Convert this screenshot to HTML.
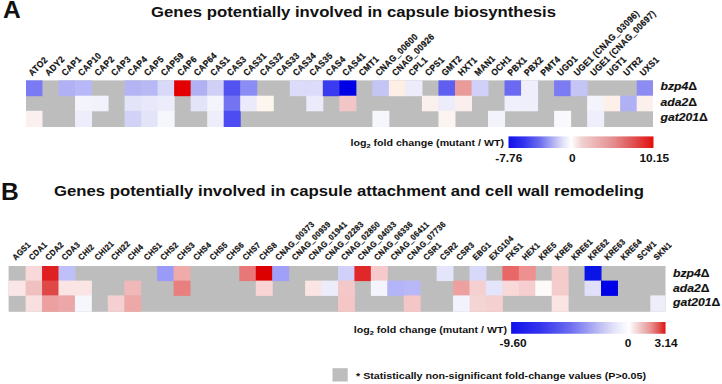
<!DOCTYPE html>
<html><head><meta charset="utf-8"><style>html,body{margin:0;padding:0;background:#fff;width:722px;height:384px;overflow:hidden}svg{display:block}</style></head><body>
<svg width="722" height="384" viewBox="0 0 722 384">
<defs>
<linearGradient id="ga" x1="0" x2="1" y1="0" y2="0"><stop offset="0.0000" stop-color="#1010ec"/><stop offset="0.1082" stop-color="#3434ee"/><stop offset="0.2165" stop-color="#6c6cf0"/><stop offset="0.3291" stop-color="#c0c0f4"/><stop offset="0.3767" stop-color="#e2e2fa"/><stop offset="0.4330" stop-color="#ffffff"/><stop offset="0.4330" stop-color="#ffffff"/><stop offset="0.4670" stop-color="#f8e8e8"/><stop offset="0.5067" stop-color="#f0d0d0"/><stop offset="0.5974" stop-color="#ecb4b4"/><stop offset="0.7165" stop-color="#e49090"/><stop offset="0.8639" stop-color="#e05050"/><stop offset="0.9433" stop-color="#e42828"/><stop offset="1.0000" stop-color="#e01010"/></linearGradient>
<linearGradient id="gb" x1="0" x2="1" y1="0" y2="0"><stop offset="0.0000" stop-color="#1010ec"/><stop offset="0.1908" stop-color="#3434ee"/><stop offset="0.3815" stop-color="#6c6cf0"/><stop offset="0.5799" stop-color="#c0c0f4"/><stop offset="0.6638" stop-color="#e2e2fa"/><stop offset="0.7630" stop-color="#ffffff"/><stop offset="0.7630" stop-color="#ffffff"/><stop offset="0.7985" stop-color="#f6e4e4"/><stop offset="0.8459" stop-color="#eec0c0"/><stop offset="0.9052" stop-color="#e89090"/><stop offset="0.9645" stop-color="#e04848"/><stop offset="1.0000" stop-color="#e01010"/></linearGradient>
</defs>
<g font-family="Liberation Sans, sans-serif" font-weight="bold" fill="#111">
<text transform="translate(2.9,17.7) scale(1.045,1)" font-size="23.5">A</text>
<text transform="translate(0.9,199.9) scale(1.045,1)" font-size="23.5">B</text>
<text x="151" y="17" font-size="14.4" textLength="405" lengthAdjust="spacingAndGlyphs">Genes potentially involved in capsule biosynthesis</text>
<text x="54" y="196.2" font-size="14.4" textLength="590" lengthAdjust="spacingAndGlyphs">Genes potentially involved in capsule attachment and cell wall remodeling</text>
<rect x="26.0" y="80.4" width="627.0" height="46.599999999999994" fill="#bdbdbd"/>
<rect x="26.00" y="80.40" width="16.48" height="15.80" fill="#7a7af5"/>
<rect x="26.00" y="110.80" width="16.48" height="16.20" fill="#fbf0f0"/>
<rect x="58.50" y="80.40" width="17.02" height="15.80" fill="#b0b0f5"/>
<rect x="75.02" y="80.40" width="17.02" height="15.80" fill="#b8b8f8"/>
<rect x="75.02" y="95.70" width="17.02" height="15.60" fill="#f4f4fc"/>
<rect x="75.02" y="110.80" width="17.02" height="16.20" fill="#ededfb"/>
<rect x="91.54" y="95.70" width="17.02" height="15.60" fill="#f2f2fc"/>
<rect x="124.58" y="80.40" width="17.02" height="15.80" fill="#b4b4f4"/>
<rect x="124.58" y="95.70" width="17.02" height="15.60" fill="#e4e4f9"/>
<rect x="124.58" y="110.80" width="17.02" height="16.20" fill="#d2d2f6"/>
<rect x="141.10" y="80.40" width="17.02" height="15.80" fill="#b8b8f5"/>
<rect x="141.10" y="95.70" width="17.02" height="15.60" fill="#e8e8fa"/>
<rect x="141.10" y="110.80" width="17.02" height="16.20" fill="#e4e4f9"/>
<rect x="157.62" y="80.40" width="17.02" height="15.80" fill="#d8d8f8"/>
<rect x="157.62" y="95.70" width="17.02" height="15.60" fill="#ececfa"/>
<rect x="157.62" y="110.80" width="17.02" height="16.20" fill="#f6f6fd"/>
<rect x="174.14" y="80.40" width="17.02" height="15.80" fill="#e40000"/>
<rect x="190.66" y="80.40" width="17.02" height="15.80" fill="#b0b0f3"/>
<rect x="190.66" y="95.70" width="17.02" height="15.60" fill="#e4e4f8"/>
<rect x="207.18" y="80.40" width="17.02" height="15.80" fill="#d0d0f7"/>
<rect x="207.18" y="95.70" width="17.02" height="15.60" fill="#f4f4fc"/>
<rect x="207.18" y="110.80" width="17.02" height="16.20" fill="#eeeefb"/>
<rect x="223.70" y="80.40" width="17.02" height="15.80" fill="#5252f0"/>
<rect x="223.70" y="95.70" width="17.02" height="15.60" fill="#7474f2"/>
<rect x="223.70" y="110.80" width="17.02" height="16.20" fill="#4c4cf2"/>
<rect x="240.22" y="80.40" width="17.02" height="15.80" fill="#8c8cf5"/>
<rect x="240.22" y="95.70" width="17.02" height="15.60" fill="#eaeafb"/>
<rect x="256.74" y="95.70" width="17.02" height="15.60" fill="#fdf6ee"/>
<rect x="289.78" y="80.40" width="17.02" height="15.80" fill="#dcdcfa"/>
<rect x="306.30" y="80.40" width="17.02" height="15.80" fill="#dcdcfa"/>
<rect x="306.30" y="95.70" width="17.02" height="15.60" fill="#ebebfb"/>
<rect x="322.82" y="80.40" width="17.02" height="15.80" fill="#3a3aee"/>
<rect x="339.34" y="80.40" width="17.02" height="15.80" fill="#0000e6"/>
<rect x="339.34" y="95.70" width="17.02" height="15.60" fill="#f2c6c6"/>
<rect x="372.38" y="80.40" width="17.02" height="15.80" fill="#c4c4f5"/>
<rect x="372.38" y="110.80" width="17.02" height="16.20" fill="#f6f6fd"/>
<rect x="388.90" y="80.40" width="17.02" height="15.80" fill="#fdeee6"/>
<rect x="405.42" y="80.40" width="17.02" height="15.80" fill="#ececfb"/>
<rect x="421.94" y="95.70" width="17.02" height="15.60" fill="#faf0ee"/>
<rect x="438.46" y="80.40" width="17.02" height="15.80" fill="#5e5ef0"/>
<rect x="438.46" y="95.70" width="17.02" height="15.60" fill="#ececfa"/>
<rect x="438.46" y="110.80" width="17.02" height="16.20" fill="#fcf4f0"/>
<rect x="454.98" y="80.40" width="17.02" height="15.80" fill="#eb9a9a"/>
<rect x="454.98" y="95.70" width="17.02" height="15.60" fill="#fbefee"/>
<rect x="471.50" y="80.40" width="17.02" height="15.80" fill="#d0d0f8"/>
<rect x="488.02" y="110.80" width="17.02" height="16.20" fill="#f3f3fc"/>
<rect x="504.54" y="80.40" width="17.02" height="15.80" fill="#6a6af2"/>
<rect x="504.54" y="95.70" width="17.02" height="15.60" fill="#f0f0fc"/>
<rect x="521.06" y="80.40" width="17.02" height="15.80" fill="#efeffb"/>
<rect x="521.06" y="95.70" width="17.02" height="15.60" fill="#efeffb"/>
<rect x="554.10" y="80.40" width="17.02" height="15.80" fill="#7c7cf2"/>
<rect x="554.10" y="110.80" width="17.02" height="16.20" fill="#f8f8fd"/>
<rect x="570.62" y="80.40" width="17.02" height="15.80" fill="#c4c4f6"/>
<rect x="587.14" y="95.70" width="17.02" height="15.60" fill="#f4f4fc"/>
<rect x="587.14" y="110.80" width="17.02" height="16.20" fill="#efeffb"/>
<rect x="603.66" y="95.70" width="17.02" height="15.60" fill="#fcf0e8"/>
<rect x="620.18" y="95.70" width="17.02" height="15.60" fill="#b0b0f5"/>
<rect x="636.70" y="80.40" width="16.30" height="15.80" fill="#8c8cf3"/>
<rect x="636.70" y="95.70" width="16.30" height="15.60" fill="#fcf0ec"/>
<rect x="8.6" y="266.0" width="656.9" height="45.80000000000001" fill="#bdbdbd"/>
<rect x="8.60" y="280.60" width="17.52" height="15.30" fill="#fae6e6"/>
<rect x="25.62" y="266.00" width="16.94" height="15.10" fill="#f8d8d8"/>
<rect x="25.62" y="280.60" width="16.94" height="15.30" fill="#f0c0c0"/>
<rect x="25.62" y="295.40" width="16.94" height="16.40" fill="#f8e0e0"/>
<rect x="42.06" y="266.00" width="16.94" height="15.10" fill="#e02020"/>
<rect x="42.06" y="280.60" width="16.94" height="15.30" fill="#e04848"/>
<rect x="42.06" y="295.40" width="16.94" height="16.40" fill="#eca0a0"/>
<rect x="58.50" y="266.00" width="16.94" height="15.10" fill="#c0c0f8"/>
<rect x="58.50" y="280.60" width="16.94" height="15.30" fill="#fae4e4"/>
<rect x="58.50" y="295.40" width="16.94" height="16.40" fill="#eca8a8"/>
<rect x="74.94" y="280.60" width="16.94" height="15.30" fill="#fae4e4"/>
<rect x="74.94" y="295.40" width="16.94" height="16.40" fill="#f6f6fd"/>
<rect x="107.82" y="295.40" width="16.94" height="16.40" fill="#f5d0d0"/>
<rect x="124.26" y="280.60" width="16.94" height="15.30" fill="#f0b8b8"/>
<rect x="124.26" y="295.40" width="16.94" height="16.40" fill="#eea8a8"/>
<rect x="157.14" y="266.00" width="16.94" height="15.10" fill="#9a9af8"/>
<rect x="173.58" y="266.00" width="16.94" height="15.10" fill="#efaaaa"/>
<rect x="173.58" y="280.60" width="16.94" height="15.30" fill="#e88080"/>
<rect x="239.34" y="266.00" width="16.94" height="15.10" fill="#e87878"/>
<rect x="255.78" y="266.00" width="16.94" height="15.10" fill="#dc0000"/>
<rect x="255.78" y="280.60" width="16.94" height="15.30" fill="#f8d4d4"/>
<rect x="272.22" y="266.00" width="16.94" height="15.10" fill="#a0a0f8"/>
<rect x="305.10" y="280.60" width="16.94" height="15.30" fill="#fae4e4"/>
<rect x="321.54" y="280.60" width="16.94" height="15.30" fill="#ececfb"/>
<rect x="337.98" y="266.00" width="16.94" height="15.10" fill="#d0d0f8"/>
<rect x="337.98" y="280.60" width="16.94" height="15.30" fill="#f4c8c8"/>
<rect x="337.98" y="295.40" width="16.94" height="16.40" fill="#f4c6c6"/>
<rect x="354.42" y="266.00" width="16.94" height="15.10" fill="#e02828"/>
<rect x="370.86" y="266.00" width="16.94" height="15.10" fill="#f6caca"/>
<rect x="370.86" y="280.60" width="16.94" height="15.30" fill="#f4f4fd"/>
<rect x="387.30" y="280.60" width="16.94" height="15.30" fill="#b4b4f8"/>
<rect x="403.74" y="280.60" width="16.94" height="15.30" fill="#b8b8f8"/>
<rect x="403.74" y="295.40" width="16.94" height="16.40" fill="#f5c6c6"/>
<rect x="436.62" y="266.00" width="16.94" height="15.10" fill="#e4e4fa"/>
<rect x="453.06" y="280.60" width="16.94" height="15.30" fill="#eca0a0"/>
<rect x="453.06" y="295.40" width="16.94" height="16.40" fill="#f2f2fd"/>
<rect x="469.50" y="266.00" width="16.94" height="15.10" fill="#d8d8f8"/>
<rect x="469.50" y="280.60" width="16.94" height="15.30" fill="#f5d0d0"/>
<rect x="469.50" y="295.40" width="16.94" height="16.40" fill="#f5d4d4"/>
<rect x="485.94" y="280.60" width="16.94" height="15.30" fill="#e4e4fa"/>
<rect x="485.94" y="295.40" width="16.94" height="16.40" fill="#f5d0d0"/>
<rect x="502.38" y="266.00" width="16.94" height="15.10" fill="#e86868"/>
<rect x="502.38" y="280.60" width="16.94" height="15.30" fill="#f8d8d8"/>
<rect x="518.82" y="266.00" width="16.94" height="15.10" fill="#ee9090"/>
<rect x="518.82" y="280.60" width="16.94" height="15.30" fill="#f5cfcf"/>
<rect x="535.26" y="280.60" width="16.94" height="15.30" fill="#fdfafa"/>
<rect x="551.70" y="266.00" width="16.94" height="15.10" fill="#f5caca"/>
<rect x="551.70" y="280.60" width="16.94" height="15.30" fill="#f5cccc"/>
<rect x="551.70" y="295.40" width="16.94" height="16.40" fill="#fae4e4"/>
<rect x="584.58" y="266.00" width="16.94" height="15.10" fill="#0a14e6"/>
<rect x="584.58" y="280.60" width="16.94" height="15.30" fill="#e0e0fa"/>
<rect x="601.02" y="280.60" width="16.94" height="15.30" fill="#0000e8"/>
<rect x="650.34" y="295.40" width="15.16" height="16.40" fill="#eeeefb"/>
<text transform="translate(32.22,76.50) rotate(-45) scale(1.0,1.1)" font-size="8.3" letter-spacing="0.35" stroke="#111" stroke-width="0.2">ATO2</text>
<text transform="translate(48.74,76.50) rotate(-45) scale(1.0,1.1)" font-size="8.3" letter-spacing="0.35" stroke="#111" stroke-width="0.2">ADY2</text>
<text transform="translate(65.26,76.50) rotate(-45) scale(1.0,1.1)" font-size="8.3" letter-spacing="0.35" stroke="#111" stroke-width="0.2">CAP1</text>
<text transform="translate(81.78,76.50) rotate(-45) scale(1.0,1.1)" font-size="8.3" letter-spacing="0.35" stroke="#111" stroke-width="0.2">CAP10</text>
<text transform="translate(98.30,76.50) rotate(-45) scale(1.0,1.1)" font-size="8.3" letter-spacing="0.35" stroke="#111" stroke-width="0.2">CAP2</text>
<text transform="translate(114.82,76.50) rotate(-45) scale(1.0,1.1)" font-size="8.3" letter-spacing="0.35" stroke="#111" stroke-width="0.2">CAP3</text>
<text transform="translate(131.34,76.50) rotate(-45) scale(1.0,1.1)" font-size="8.3" letter-spacing="0.35" stroke="#111" stroke-width="0.2">CAP4</text>
<text transform="translate(147.86,76.50) rotate(-45) scale(1.0,1.1)" font-size="8.3" letter-spacing="0.35" stroke="#111" stroke-width="0.2">CAP5</text>
<text transform="translate(164.38,76.50) rotate(-45) scale(1.0,1.1)" font-size="8.3" letter-spacing="0.35" stroke="#111" stroke-width="0.2">CAP59</text>
<text transform="translate(180.90,76.50) rotate(-45) scale(1.0,1.1)" font-size="8.3" letter-spacing="0.35" stroke="#111" stroke-width="0.2">CAP6</text>
<text transform="translate(197.42,76.50) rotate(-45) scale(1.0,1.1)" font-size="8.3" letter-spacing="0.35" stroke="#111" stroke-width="0.2">CAP64</text>
<text transform="translate(213.94,76.50) rotate(-45) scale(1.0,1.1)" font-size="8.3" letter-spacing="0.35" stroke="#111" stroke-width="0.2">CAS1</text>
<text transform="translate(230.46,76.50) rotate(-45) scale(1.0,1.1)" font-size="8.3" letter-spacing="0.35" stroke="#111" stroke-width="0.2">CAS3</text>
<text transform="translate(246.98,76.50) rotate(-45) scale(1.0,1.1)" font-size="8.3" letter-spacing="0.35" stroke="#111" stroke-width="0.2">CAS31</text>
<text transform="translate(263.50,76.50) rotate(-45) scale(1.0,1.1)" font-size="8.3" letter-spacing="0.35" stroke="#111" stroke-width="0.2">CAS32</text>
<text transform="translate(280.02,76.50) rotate(-45) scale(1.0,1.1)" font-size="8.3" letter-spacing="0.35" stroke="#111" stroke-width="0.2">CAS33</text>
<text transform="translate(296.54,76.50) rotate(-45) scale(1.0,1.1)" font-size="8.3" letter-spacing="0.35" stroke="#111" stroke-width="0.2">CAS34</text>
<text transform="translate(313.06,76.50) rotate(-45) scale(1.0,1.1)" font-size="8.3" letter-spacing="0.35" stroke="#111" stroke-width="0.2">CAS35</text>
<text transform="translate(329.58,76.50) rotate(-45) scale(1.0,1.1)" font-size="8.3" letter-spacing="0.35" stroke="#111" stroke-width="0.2">CAS4</text>
<text transform="translate(346.10,76.50) rotate(-45) scale(1.0,1.1)" font-size="8.3" letter-spacing="0.35" stroke="#111" stroke-width="0.2">CAS41</text>
<text transform="translate(362.62,76.50) rotate(-45) scale(1.0,1.1)" font-size="8.3" letter-spacing="0.35" stroke="#111" stroke-width="0.2">CMT1</text>
<text transform="translate(379.14,76.50) rotate(-45) scale(1.0,1.1)" font-size="8.3" letter-spacing="0.35" stroke="#111" stroke-width="0.2">CNAG_00600</text>
<text transform="translate(395.66,76.50) rotate(-45) scale(1.0,1.1)" font-size="8.3" letter-spacing="0.35" stroke="#111" stroke-width="0.2">CNAG_00926</text>
<text transform="translate(412.18,76.50) rotate(-45) scale(1.0,1.1)" font-size="8.3" letter-spacing="0.35" stroke="#111" stroke-width="0.2">CPL1</text>
<text transform="translate(428.70,76.50) rotate(-45) scale(1.0,1.1)" font-size="8.3" letter-spacing="0.35" stroke="#111" stroke-width="0.2">CPS1</text>
<text transform="translate(445.22,76.50) rotate(-45) scale(1.0,1.1)" font-size="8.3" letter-spacing="0.35" stroke="#111" stroke-width="0.2">GMT2</text>
<text transform="translate(461.74,76.50) rotate(-45) scale(1.0,1.1)" font-size="8.3" letter-spacing="0.35" stroke="#111" stroke-width="0.2">HXT1</text>
<text transform="translate(478.26,76.50) rotate(-45) scale(1.0,1.1)" font-size="8.3" letter-spacing="0.35" stroke="#111" stroke-width="0.2">MAN1</text>
<text transform="translate(494.78,76.50) rotate(-45) scale(1.0,1.1)" font-size="8.3" letter-spacing="0.35" stroke="#111" stroke-width="0.2">OCH1</text>
<text transform="translate(511.30,76.50) rotate(-45) scale(1.0,1.1)" font-size="8.3" letter-spacing="0.35" stroke="#111" stroke-width="0.2">PBX1</text>
<text transform="translate(527.82,76.50) rotate(-45) scale(1.0,1.1)" font-size="8.3" letter-spacing="0.35" stroke="#111" stroke-width="0.2">PBX2</text>
<text transform="translate(544.34,76.50) rotate(-45) scale(1.0,1.1)" font-size="8.3" letter-spacing="0.35" stroke="#111" stroke-width="0.2">PMT4</text>
<text transform="translate(560.86,76.50) rotate(-45) scale(1.0,1.1)" font-size="8.3" letter-spacing="0.35" stroke="#111" stroke-width="0.2">UGD1</text>
<text transform="translate(577.38,76.50) rotate(-45) scale(1.0,1.1)" font-size="8.3" letter-spacing="0.35" stroke="#111" stroke-width="0.2">UGE1 (CNAG_03096)</text>
<text transform="translate(593.90,76.50) rotate(-45) scale(1.0,1.1)" font-size="8.3" letter-spacing="0.35" stroke="#111" stroke-width="0.2">UGE1 (CNAG_00697)</text>
<text transform="translate(610.42,76.50) rotate(-45) scale(1.0,1.1)" font-size="8.3" letter-spacing="0.35" stroke="#111" stroke-width="0.2">UGT1</text>
<text transform="translate(626.94,76.50) rotate(-45) scale(1.0,1.1)" font-size="8.3" letter-spacing="0.35" stroke="#111" stroke-width="0.2">UTR2</text>
<text transform="translate(643.46,76.50) rotate(-45) scale(1.0,1.1)" font-size="8.3" letter-spacing="0.35" stroke="#111" stroke-width="0.2">UXS1</text>
<text transform="translate(15.80,260.70) rotate(-45) scale(1.0,1.1)" font-size="7.6" letter-spacing="0.33" stroke="#111" stroke-width="0.2">AGS1</text>
<text transform="translate(32.24,260.70) rotate(-45) scale(1.0,1.1)" font-size="7.6" letter-spacing="0.33" stroke="#111" stroke-width="0.2">CDA1</text>
<text transform="translate(48.68,260.70) rotate(-45) scale(1.0,1.1)" font-size="7.6" letter-spacing="0.33" stroke="#111" stroke-width="0.2">CDA2</text>
<text transform="translate(65.12,260.70) rotate(-45) scale(1.0,1.1)" font-size="7.6" letter-spacing="0.33" stroke="#111" stroke-width="0.2">CDA3</text>
<text transform="translate(81.56,260.70) rotate(-45) scale(1.0,1.1)" font-size="7.6" letter-spacing="0.33" stroke="#111" stroke-width="0.2">CHI2</text>
<text transform="translate(98.00,260.70) rotate(-45) scale(1.0,1.1)" font-size="7.6" letter-spacing="0.33" stroke="#111" stroke-width="0.2">CHI21</text>
<text transform="translate(114.44,260.70) rotate(-45) scale(1.0,1.1)" font-size="7.6" letter-spacing="0.33" stroke="#111" stroke-width="0.2">CHI22</text>
<text transform="translate(130.88,260.70) rotate(-45) scale(1.0,1.1)" font-size="7.6" letter-spacing="0.33" stroke="#111" stroke-width="0.2">CHI4</text>
<text transform="translate(147.32,260.70) rotate(-45) scale(1.0,1.1)" font-size="7.6" letter-spacing="0.33" stroke="#111" stroke-width="0.2">CHS1</text>
<text transform="translate(163.76,260.70) rotate(-45) scale(1.0,1.1)" font-size="7.6" letter-spacing="0.33" stroke="#111" stroke-width="0.2">CHS2</text>
<text transform="translate(180.20,260.70) rotate(-45) scale(1.0,1.1)" font-size="7.6" letter-spacing="0.33" stroke="#111" stroke-width="0.2">CHS3</text>
<text transform="translate(196.64,260.70) rotate(-45) scale(1.0,1.1)" font-size="7.6" letter-spacing="0.33" stroke="#111" stroke-width="0.2">CHS4</text>
<text transform="translate(213.08,260.70) rotate(-45) scale(1.0,1.1)" font-size="7.6" letter-spacing="0.33" stroke="#111" stroke-width="0.2">CHS5</text>
<text transform="translate(229.52,260.70) rotate(-45) scale(1.0,1.1)" font-size="7.6" letter-spacing="0.33" stroke="#111" stroke-width="0.2">CHS6</text>
<text transform="translate(245.96,260.70) rotate(-45) scale(1.0,1.1)" font-size="7.6" letter-spacing="0.33" stroke="#111" stroke-width="0.2">CHS7</text>
<text transform="translate(262.40,260.70) rotate(-45) scale(1.0,1.1)" font-size="7.6" letter-spacing="0.33" stroke="#111" stroke-width="0.2">CHS8</text>
<text transform="translate(278.84,260.70) rotate(-45) scale(1.0,1.1)" font-size="7.6" letter-spacing="0.33" stroke="#111" stroke-width="0.2">CNAG_00373</text>
<text transform="translate(295.28,260.70) rotate(-45) scale(1.0,1.1)" font-size="7.6" letter-spacing="0.33" stroke="#111" stroke-width="0.2">CNAG_00939</text>
<text transform="translate(311.72,260.70) rotate(-45) scale(1.0,1.1)" font-size="7.6" letter-spacing="0.33" stroke="#111" stroke-width="0.2">CNAG_01941</text>
<text transform="translate(328.16,260.70) rotate(-45) scale(1.0,1.1)" font-size="7.6" letter-spacing="0.33" stroke="#111" stroke-width="0.2">CNAG_02283</text>
<text transform="translate(344.60,260.70) rotate(-45) scale(1.0,1.1)" font-size="7.6" letter-spacing="0.33" stroke="#111" stroke-width="0.2">CNAG_02850</text>
<text transform="translate(361.04,260.70) rotate(-45) scale(1.0,1.1)" font-size="7.6" letter-spacing="0.33" stroke="#111" stroke-width="0.2">CNAG_04033</text>
<text transform="translate(377.48,260.70) rotate(-45) scale(1.0,1.1)" font-size="7.6" letter-spacing="0.33" stroke="#111" stroke-width="0.2">CNAG_06336</text>
<text transform="translate(393.92,260.70) rotate(-45) scale(1.0,1.1)" font-size="7.6" letter-spacing="0.33" stroke="#111" stroke-width="0.2">CNAG_06411</text>
<text transform="translate(410.36,260.70) rotate(-45) scale(1.0,1.1)" font-size="7.6" letter-spacing="0.33" stroke="#111" stroke-width="0.2">CNAG_07736</text>
<text transform="translate(426.80,260.70) rotate(-45) scale(1.0,1.1)" font-size="7.6" letter-spacing="0.33" stroke="#111" stroke-width="0.2">CSR1</text>
<text transform="translate(443.24,260.70) rotate(-45) scale(1.0,1.1)" font-size="7.6" letter-spacing="0.33" stroke="#111" stroke-width="0.2">CSR2</text>
<text transform="translate(459.68,260.70) rotate(-45) scale(1.0,1.1)" font-size="7.6" letter-spacing="0.33" stroke="#111" stroke-width="0.2">CSR3</text>
<text transform="translate(476.12,260.70) rotate(-45) scale(1.0,1.1)" font-size="7.6" letter-spacing="0.33" stroke="#111" stroke-width="0.2">EBG1</text>
<text transform="translate(492.56,260.70) rotate(-45) scale(1.0,1.1)" font-size="7.6" letter-spacing="0.33" stroke="#111" stroke-width="0.2">EXG104</text>
<text transform="translate(509.00,260.70) rotate(-45) scale(1.0,1.1)" font-size="7.6" letter-spacing="0.33" stroke="#111" stroke-width="0.2">FKS1</text>
<text transform="translate(525.44,260.70) rotate(-45) scale(1.0,1.1)" font-size="7.6" letter-spacing="0.33" stroke="#111" stroke-width="0.2">HEX1</text>
<text transform="translate(541.88,260.70) rotate(-45) scale(1.0,1.1)" font-size="7.6" letter-spacing="0.33" stroke="#111" stroke-width="0.2">KRE5</text>
<text transform="translate(558.32,260.70) rotate(-45) scale(1.0,1.1)" font-size="7.6" letter-spacing="0.33" stroke="#111" stroke-width="0.2">KRE6</text>
<text transform="translate(574.76,260.70) rotate(-45) scale(1.0,1.1)" font-size="7.6" letter-spacing="0.33" stroke="#111" stroke-width="0.2">KRE61</text>
<text transform="translate(591.20,260.70) rotate(-45) scale(1.0,1.1)" font-size="7.6" letter-spacing="0.33" stroke="#111" stroke-width="0.2">KRE62</text>
<text transform="translate(607.64,260.70) rotate(-45) scale(1.0,1.1)" font-size="7.6" letter-spacing="0.33" stroke="#111" stroke-width="0.2">KRE63</text>
<text transform="translate(624.08,260.70) rotate(-45) scale(1.0,1.1)" font-size="7.6" letter-spacing="0.33" stroke="#111" stroke-width="0.2">KRE64</text>
<text transform="translate(640.52,260.70) rotate(-45) scale(1.0,1.1)" font-size="7.6" letter-spacing="0.33" stroke="#111" stroke-width="0.2">SCW1</text>
<text transform="translate(656.96,260.70) rotate(-45) scale(1.0,1.1)" font-size="7.6" letter-spacing="0.33" stroke="#111" stroke-width="0.2">SKN1</text>
<text transform="translate(660.5,90.3) scale(1.06,1)" font-size="11.5" font-style="italic" stroke="#111" stroke-width="0.15">bzp4<tspan font-style="normal">Δ</tspan></text>
<text transform="translate(673.0,277.2) scale(1.06,1)" font-size="11.5" font-style="italic" stroke="#111" stroke-width="0.15">bzp4<tspan font-style="normal">Δ</tspan></text>
<text transform="translate(660.5,105.6) scale(1.06,1)" font-size="11.5" font-style="italic" stroke="#111" stroke-width="0.15">ada2<tspan font-style="normal">Δ</tspan></text>
<text transform="translate(673.0,291.5) scale(1.06,1)" font-size="11.5" font-style="italic" stroke="#111" stroke-width="0.15">ada2<tspan font-style="normal">Δ</tspan></text>
<text transform="translate(660.5,121.1) scale(1.06,1)" font-size="11.5" font-style="italic" stroke="#111" stroke-width="0.15">gat201<tspan font-style="normal">Δ</tspan></text>
<text transform="translate(673.0,305.9) scale(1.06,1)" font-size="11.5" font-style="italic" stroke="#111" stroke-width="0.15">gat201<tspan font-style="normal">Δ</tspan></text>
<text x="350.5" y="146.4" font-size="8.7" textLength="153.5" lengthAdjust="spacingAndGlyphs">log<tspan font-size="6.09" dy="2">2</tspan><tspan dy="-2"> fold change (mutant / WT)</tspan></text>
<rect x="508.5" y="136.4" width="145" height="11.6" fill="url(#ga)"/>
<text transform="translate(495.2,161.6) scale(1.12,1)" font-size="10.6" text-anchor="start">-7.76</text>
<text transform="translate(572.2,161.6) scale(1.12,1)" font-size="10.6" text-anchor="middle">0</text>
<text transform="translate(669.2,161.6) scale(1.12,1)" font-size="10.6" text-anchor="end">10.15</text>
<text x="353.8" y="332.6" font-size="8.7" textLength="153.2" lengthAdjust="spacingAndGlyphs">log<tspan font-size="6.09" dy="2">2</tspan><tspan dy="-2"> fold change (mutant / WT)</tspan></text>
<rect x="511.1" y="322" width="154.4" height="11.75" fill="url(#gb)"/>
<text transform="translate(499.6,346.8) scale(1.12,1)" font-size="10.6" text-anchor="start">-9.60</text>
<text transform="translate(628.0,346.8) scale(1.12,1)" font-size="10.6" text-anchor="middle">0</text>
<text transform="translate(677.7,346.8) scale(1.12,1)" font-size="10.6" text-anchor="end">3.14</text>
<rect x="332.5" y="368.2" width="15.2" height="13.3" fill="#bdbdbd"/>
<text x="356" y="379" font-size="9" textLength="290" lengthAdjust="spacingAndGlyphs">* Statistically non-significant fold-change values (P&gt;0.05)</text>
</g></svg>
</body></html>
